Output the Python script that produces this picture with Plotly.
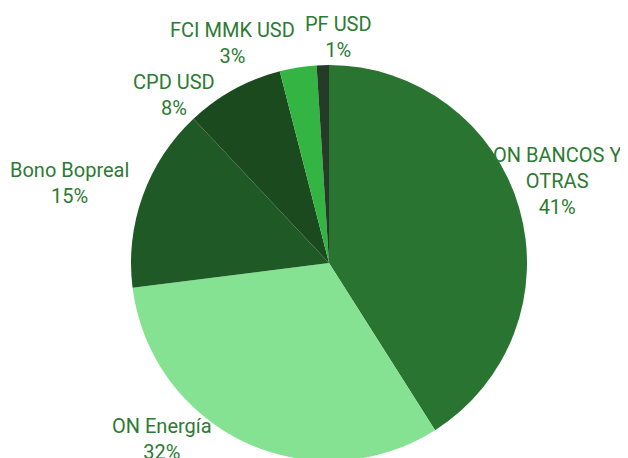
import plotly.graph_objects as go

labels = ["ON BANCOS Y OTRAS", "ON Energía", "Bono Bopreal", "CPD USD", "FCI MMK USD", "PF USD"]
values = [41, 32, 15, 8, 3, 1]
display_labels = ["ON BANCOS Y<br>OTRAS", "ON Energía", "Bono Bopreal", "CPD USD", "FCI MMK USD", "PF USD"]
colors = ["#2a7432", "#86e293", "#1f5a26", "#1b4a1f", "#33b443", "#263a28"]
label_pos = [(0.8742, 0.6223), (0.2452, 0.0590), (0.0987, 0.6179), (0.2643, 0.8111), (0.3567, 0.9236), (0.5255, 0.9367)]

W, H = 628, 458
cx, cy, r = 321, 255, 198

fig = go.Figure(go.Pie(
    labels=labels, values=values, sort=False, direction="clockwise", rotation=0,
    marker=dict(colors=colors, line=dict(width=0)),
    textinfo="none", hoverinfo="label+percent",
    domain=dict(x=[(cx - r) / W, (cx + r) / W], y=[(H - cy - r) / H, (H - cy + r) / H]),
    showlegend=False,
))

total = sum(values)
for lab, v, (x, y) in zip(display_labels, values, label_pos):
    fig.add_annotation(x=x, y=y, xref="paper", yref="paper", text=f"{lab}<br>{round(100*v/total)}%",
                       showarrow=False, xanchor="center", yanchor="middle", align="center",
                       font=dict(family="Roboto", size=20, color="#2d7a33"))

fig.update_layout(width=W, height=H, margin=dict(l=0, r=0, t=0, b=0),
                  paper_bgcolor="white", plot_bgcolor="white")
fig.write_html("out.html")
